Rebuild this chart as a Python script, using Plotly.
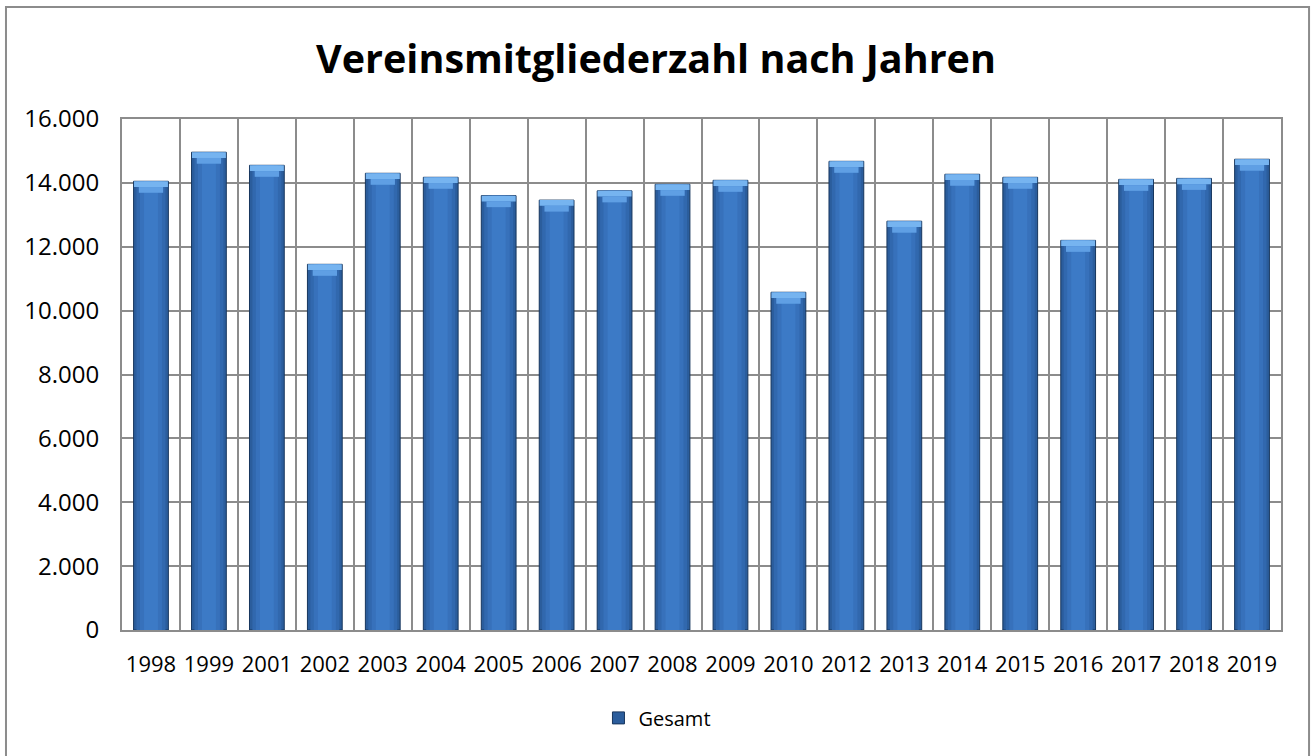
import plotly.graph_objects as go

years = ["1998", "1999", "2001", "2002", "2003", "2004", "2005", "2006", "2007", "2008",
         "2009", "2010", "2012", "2013", "2014", "2015", "2016", "2017", "2018", "2019"]
gesamt = [14050, 14960, 14550, 11450, 14300, 14175, 13600, 13460, 13750, 13955,
          14080, 10575, 14675, 12800, 14270, 14175, 12200, 14110, 14140, 14740]

y_ticks = [0, 2000, 4000, 6000, 8000, 10000, 12000, 14000, 16000]

FONT = "Open Sans"
BEVEL = 180  # bevel band thickness in data units (styling only)

fig = go.Figure()

# gradient-like layering: dark outer bar, lighter inner strips
layers = [
    (0.60, "#2B5D9C", dict(color="#17365D", width=1), True),
    (0.50, "#3168AE", dict(width=0), False),
    (0.38, "#3771BB", dict(width=0), False),
    (0.24, "#3C7AC6", dict(width=0), False),
]
for w, col, line, show in layers:
    fig.add_trace(go.Bar(
        x=years, y=gesamt, name="Gesamt", width=w,
        marker=dict(color=col, line=line),
        showlegend=show, hoverinfo="x+y" if show else "skip",
    ))

# top bevel (lighter chevron band)
fig.add_trace(go.Bar(
    x=years, y=[BEVEL] * len(years), base=[v - BEVEL for v in gesamt], width=0.585,
    marker=dict(color="#76B4F0", line=dict(width=0)), showlegend=False, hoverinfo="skip",
))
fig.add_trace(go.Bar(
    x=years, y=[BEVEL] * len(years), base=[v - 2 * BEVEL for v in gesamt], width=0.42,
    marker=dict(color="#5F9FE4", line=dict(width=0)), showlegend=False, hoverinfo="skip",
))

fig.update_layout(
    width=1312, height=756,
    barmode="overlay",
    paper_bgcolor="white", plot_bgcolor="white",
    separators=",.",
    margin=dict(l=122, r=31, t=119, b=126),
    title=dict(text="<b>Vereinsmitgliederzahl nach Jahren</b>",
               font=dict(family=FONT, size=39.5, color="black"),
               x=0.5, xanchor="center", y=0.922, yanchor="middle"),
    font=dict(family=FONT, color="black"),
    legend=dict(orientation="h", x=0.462, xanchor="center", y=-0.172, yanchor="middle",
                itemwidth=30,
                font=dict(family=FONT, size=20, color="black")),
    shapes=[dict(type="rect", xref="paper", yref="paper",
                 x0=-0.1001, x1=1.0242, y0=-0.26, y1=1.219,
                 line=dict(color="#8C8C8C", width=2), layer="below")],
)

fig.update_xaxes(
    type="category", tickson="boundaries", ticks="", tickangle=0,
    showgrid=True, gridcolor="#8C8C8C", gridwidth=2,
    showline=True, linecolor="#8C8C8C", linewidth=2, mirror=True,
    ticklabelstandoff=14,
    tickfont=dict(family=FONT, size=22, color="black"),
)
fig.update_yaxes(
    range=[0, 16000], tickvals=y_ticks, tickformat=",d",
    showgrid=True, gridcolor="#8C8C8C", gridwidth=2,
    showline=True, linecolor="#8C8C8C", linewidth=2, mirror=True,
    zeroline=False, ticks="", ticklen=0, ticklabelstandoff=16,
    tickfont=dict(family=FONT, size=24, color="black"),
)

fig.write_html("out.html", config={"displayModeBar": False},
               post_script="document.body.style.margin='0';")
